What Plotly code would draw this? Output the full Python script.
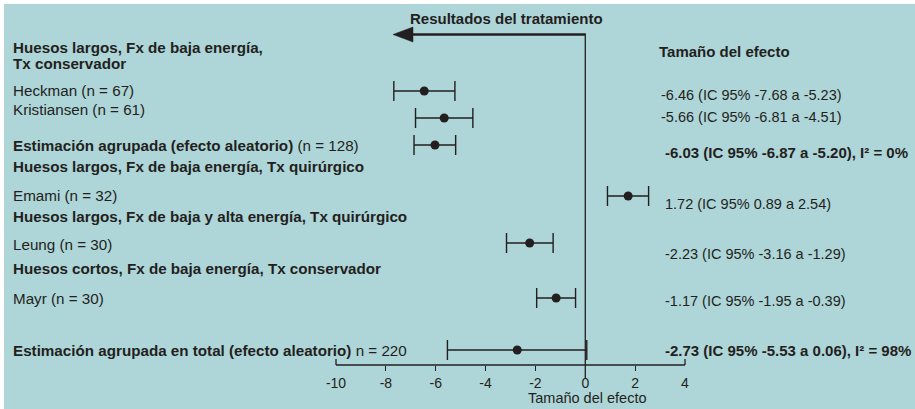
import plotly.graph_objects as go

# ---- data -------------------------------------------------------------
study_labels = [
    "Heckman (n = 67)",
    "Kristiansen (n = 61)",
    "<b>Estimación agrupada (efecto aleatorio)</b> (n = 128)",
    "Emami (n = 32)",
    "Leung (n = 30)",
    "Mayr (n = 30)",
    "<b>Estimación agrupada en total (efecto aleatorio)</b> n = 220",
]
effects = [-6.46, -5.66, -6.03, 1.72, -2.23, -1.17, -2.73]
ci_low = [-7.68, -6.81, -6.87, 0.89, -3.16, -1.95, -5.53]
ci_high = [-5.23, -4.51, -5.20, 2.54, -1.29, -0.39, 0.06]
i_squared = [None, None, 0, None, None, None, 98]
is_pooled = [False, False, True, False, False, False, True]

group_headers = [
    "Huesos largos, Fx de baja energía,",
    "Tx conservador",
    "Huesos largos, Fx de baja energía, Tx quirúrgico",
    "Huesos largos, Fx de baja y alta energía, Tx quirúrgico",
    "Huesos cortos, Fx de baja energía, Tx conservador",
]

tick_vals = [-10, -8, -6, -4, -2, 0, 2, 4]
tick_text = ["-10", "-8", "-6", "-4", "-2", "0", "2", "4"]

title_text = "Resultados del tratamiento"
effect_header = "Tamaño del efecto"
axis_title = "Tamaño del efecto"

# ---- layout geometry (pixels) ----------------------------------------
W, H = 915, 409
M_L, M_T = 4, 4
AX_LEFT_PX, AX_RIGHT_PX = 336, 685          # where -10 and 4 sit
AXIS_Y = 365                                # baseline of the effect axis
PPU = (AX_RIGHT_PX - AX_LEFT_PX) / (tick_vals[-1] - tick_vals[0])


def x_at(px):
    return tick_vals[0] + (px - AX_LEFT_PX) / PPU


def paper_x(px):
    return (px - M_L) / (W - M_L)


def paper_y(py):
    return (H - py) / (H - M_T)


row_y = [91, 118, 145, 196, 243, 298, 350]
left_label_y = [90, 109, 145, 195, 244, 298, 350]
right_label_y = [95, 117, 152, 204, 254, 301, 350]
right_label_x = [659, 659, 663, 663, 663, 663, 663]
header_y = [47, 63, 166, 216, 268]

LEFT_X = 11
ARROW_Y = 34.5
ARROW_TIP_PX = 393

INK = "#231f20"
BG = "#aed5d8"
FONT = "Liberation Sans, Arial, Helvetica, sans-serif"

fig = go.Figure()

fig.add_trace(go.Scatter(
    x=effects,
    y=row_y,
    mode="markers",
    marker=dict(size=9, color=INK),
    error_x=dict(
        type="data",
        symmetric=False,
        array=[h - e for h, e in zip(ci_high, effects)],
        arrayminus=[e - l for e, l in zip(effects, ci_low)],
        width=10,
        thickness=1.4,
        color=INK,
    ),
    cliponaxis=False,
    hoverinfo="skip",
    showlegend=False,
))

shapes = [
    # effect axis baseline and its upturned end caps
    dict(type="line", xref="x", yref="y", x0=tick_vals[0], x1=tick_vals[-1],
         y0=AXIS_Y, y1=AXIS_Y, line=dict(color=INK, width=1.3)),
    dict(type="line", xref="x", yref="y", x0=tick_vals[0], x1=tick_vals[0],
         y0=AXIS_Y - 6, y1=AXIS_Y, line=dict(color=INK, width=1.3)),
    dict(type="line", xref="x", yref="y", x0=tick_vals[-1], x1=tick_vals[-1],
         y0=AXIS_Y - 6, y1=AXIS_Y, line=dict(color=INK, width=1.3)),
    # line of no effect
    dict(type="line", xref="x", yref="y", x0=0, x1=0,
         y0=ARROW_Y - 1, y1=AXIS_Y + 13, line=dict(color=INK, width=1.3)),
    # arrow shaft pointing to the favourable side
    dict(type="line", xref="x", yref="y", x0=0, x1=x_at(ARROW_TIP_PX + 18),
         y0=ARROW_Y, y1=ARROW_Y, line=dict(color=INK, width=2.7)),
    # arrow head
    dict(type="path", xref="x", yref="y",
         xsizemode="pixel", ysizemode="pixel",
         xanchor=x_at(ARROW_TIP_PX), yanchor=ARROW_Y,
         path="M0,0 L20,7.5 L20,-7.5 Z",
         fillcolor=INK, line=dict(color=INK, width=0.5)),
]

annotations = []


def add_text(text, px, py, size, bold=False, xanchor="left"):
    annotations.append(dict(
        text=f"<b>{text}</b>" if bold else text,
        xref="paper", yref="y", x=paper_x(px), y=py,
        xanchor=xanchor, yanchor="middle", showarrow=False,
        font=dict(family=FONT, size=size, color=INK),
    ))


add_text(title_text, 507, 18, 15, bold=True, xanchor="center")
add_text(effect_header, 657, 51, 15, bold=True)

for txt, y in zip(group_headers, header_y):
    add_text(txt, LEFT_X, y, 15.2, bold=True)

for txt, y in zip(study_labels, left_label_y):
    add_text(txt, LEFT_X, y, 15.2)

for e, lo, hi, i2, pooled, y, x in zip(effects, ci_low, ci_high, i_squared,
                                       is_pooled, right_label_y, right_label_x):
    s = f"{e:.2f} (IC 95% {lo:.2f} a {hi:.2f})"
    if i2 is not None:
        s += f", I² = {i2}%"
    add_text(s, x, y, 15 if pooled else 14.5, bold=pooled)

add_text(axis_title, (AX_LEFT_PX + AX_RIGHT_PX) / 2 + 77, 398, 14.5,
         xanchor="center")

fig.update_layout(
    width=W, height=H,
    margin=dict(l=M_L, r=0, t=M_T, b=0),
    paper_bgcolor="white",
    plot_bgcolor=BG,
    shapes=shapes,
    annotations=annotations,
    font=dict(family=FONT, color=INK),
    xaxis=dict(
        range=[x_at(M_L), x_at(W)],
        anchor="free",
        position=paper_y(AXIS_Y),
        showgrid=False, zeroline=False, showline=False,
        tickvals=tick_vals, ticktext=tick_text,
        ticks="", ticklabelstandoff=8,
        tickfont=dict(family=FONT, size=14, color=INK),
        minor=dict(tickvals=[-8, -6, -4, -2, 2], ticks="outside",
                   ticklen=5, tickwidth=1.3, tickcolor=INK, showgrid=False),
        fixedrange=True,
    ),
    yaxis=dict(range=[H, M_T], visible=False, fixedrange=True),
)

fig.write_html("out.html")
